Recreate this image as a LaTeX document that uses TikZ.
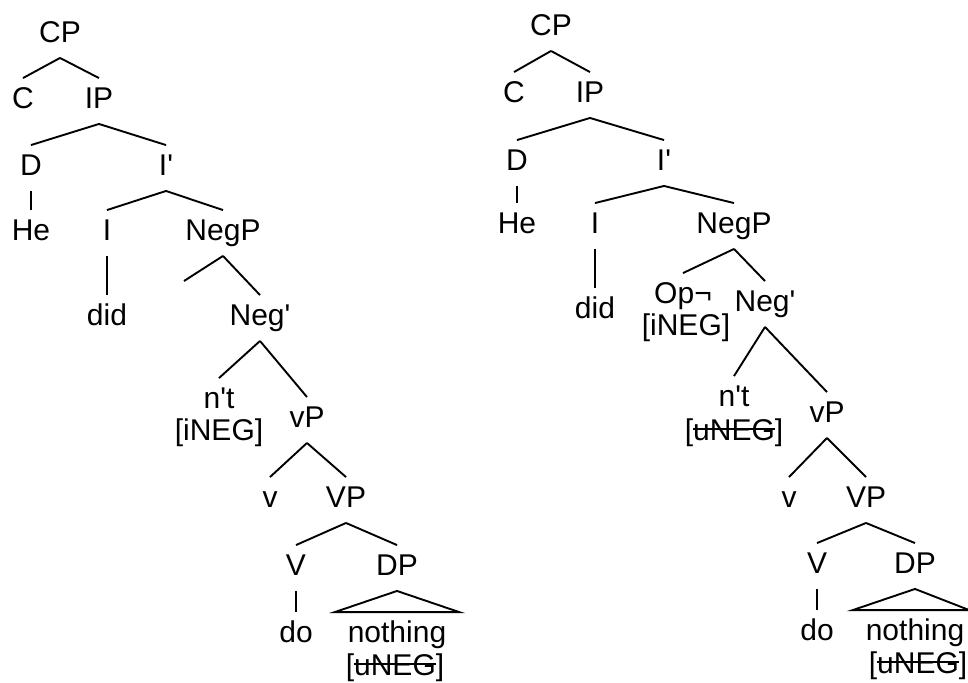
\documentclass[tikz,border=0pt]{standalone}
\usepackage{fontspec}
\setmainfont{Liberation Sans}
\newcommand{\prm}{\textquotesingle}
\newcommand{\strk}[1]{\setbox0\hbox{#1}\rlap{\rule[0.33em]{\wd0}{0.06em}}\box0}

\begin{document}
\begin{tikzpicture}[x = 0.5pt, y = 0.5pt, line width = 0.95pt,
	lbl/.style = {font = \fontsize{15}{18}\selectfont, inner xsep = 0pt,
		inner ysep = 4pt, text height = 10.5pt, text depth = 3.5pt, anchor = base}]
	\useasboundingbox (0, 0) rectangle (968, -682);
	% left tree
	\node[lbl] (acp) at (60, -42) {CP};
	\node[lbl] (ac) at (23, -108) {C};
	\node[lbl] (aip) at (99, -108) {IP};
	\node[lbl] (ad) at (31, -175) {D};
	\node[lbl] (aib) at (166, -175) {I\prm};
	\node[lbl] (ahe) at (31, -240) {He};
	\node[lbl] (ai) at (107, -240) {I};
	\node[lbl] (anegp) at (223, -240) {NegP};
	\node[lbl] (adid) at (107, -325) {did};
	\node[lbl] (aneg) at (260, -325) {Neg\prm};
	\coordinate (aspec) at (184, -281);
	\node[lbl] (ant) at (219, -408) {n\prm t};
	\node[lbl] (antf) at (219, -440) {[iNEG]};
	\node[lbl] (asvp) at (307, -427) {vP};
	\node[lbl] (asv) at (270, -507) {v};
	\node[lbl] (abvp) at (346, -507) {VP};
	\node[lbl] (abv) at (296, -575) {V};
	\node[lbl] (adp) at (397, -575) {DP};
	\node[lbl] (ado) at (296, -642) {do};
	\node[lbl] (anothing) at (397, -642) {nothing};
	\node[lbl] (anothingf) at (395, -675) {[\strk{uNEG}]};
	\draw (acp.south) -- (ac.north);
	\draw (acp.south) -- (aip.north);
	\draw (aip.south) -- (ad.north);
	\draw (aip.south) -- (aib.north);
	\draw (ad.south) -- (ahe.north);
	\draw (aib.south) -- (ai.north);
	\draw (aib.south) -- (anegp.north);
	\draw (ai.south) -- (adid.north);
	\draw (anegp.south) -- (aspec);
	\draw (anegp.south) -- (aneg.north);
	\draw (aneg.south) -- (ant.north);
	\draw (aneg.south) -- (asvp.north);
	\draw (asvp.south) -- (asv.north);
	\draw (asvp.south) -- (abvp.north);
	\draw (abvp.south) -- (abv.north);
	\draw (abvp.south) -- (adp.north);
	\draw (abv.south) -- (ado.north);
	\draw (adp.south) -- ([xshift = -6pt]anothing.north west)
		-- ([xshift = 6pt]anothing.north east) -- cycle;
	% right tree
	\node[lbl] (bcp) at (551, -35) {CP};
	\node[lbl] (bc) at (514, -102) {C};
	\node[lbl] (bip) at (590, -102) {IP};
	\node[lbl] (bd) at (517, -170) {D};
	\node[lbl] (bib) at (664, -170) {I\prm};
	\node[lbl] (bhe) at (517, -233) {He};
	\node[lbl] (bi) at (595, -233) {I};
	\node[lbl] (bnegp) at (734, -233) {NegP};
	\node[lbl] (bdid) at (595, -318) {did};
	\node[lbl] (bop) at (683, -303) {Op¬};
	\node[lbl] (bopf) at (686, -335) {[iNEG]};
	\node[lbl] (bneg) at (765, -311) {Neg\prm};
	\node[lbl] (bnt) at (734, -406) {n\prm t};
	\node[lbl] (bntf) at (734, -440) {[\strk{uNEG}]};
	\node[lbl] (bsvp) at (827, -422) {vP};
	\node[lbl] (bsv) at (789, -507) {v};
	\node[lbl] (bbvp) at (866, -507) {VP};
	\node[lbl] (bbv) at (817, -573) {V};
	\node[lbl] (bdp) at (915, -573) {DP};
	\node[lbl] (bdo) at (817, -640) {do};
	\node[lbl] (bnothing) at (915, -640) {nothing};
	\node[lbl] (bnothingf) at (918, -673) {[\strk{uNEG}]};
	\draw (bcp.south) -- (bc.north);
	\draw (bcp.south) -- (bip.north);
	\draw (bip.south) -- (bd.north);
	\draw (bip.south) -- (bib.north);
	\draw (bd.south) -- (bhe.north);
	\draw (bib.south) -- (bi.north);
	\draw (bib.south) -- (bnegp.north);
	\draw (bi.south) -- (bdid.north);
	\draw (bnegp.south) -- (bop.north);
	\draw (bnegp.south) -- (bneg.north);
	\draw (bneg.south) -- (bnt.north);
	\draw (bneg.south) -- (bsvp.north);
	\draw (bsvp.south) -- (bsv.north);
	\draw (bsvp.south) -- (bbvp.north);
	\draw (bbvp.south) -- (bbv.north);
	\draw (bbvp.south) -- (bdp.north);
	\draw (bbv.south) -- (bdo.north);
	\draw (bdp.south) -- ([xshift = -6pt]bnothing.north west)
		-- ([xshift = 2pt]bnothing.north east) -- cycle;
\end{tikzpicture}
\end{document}
